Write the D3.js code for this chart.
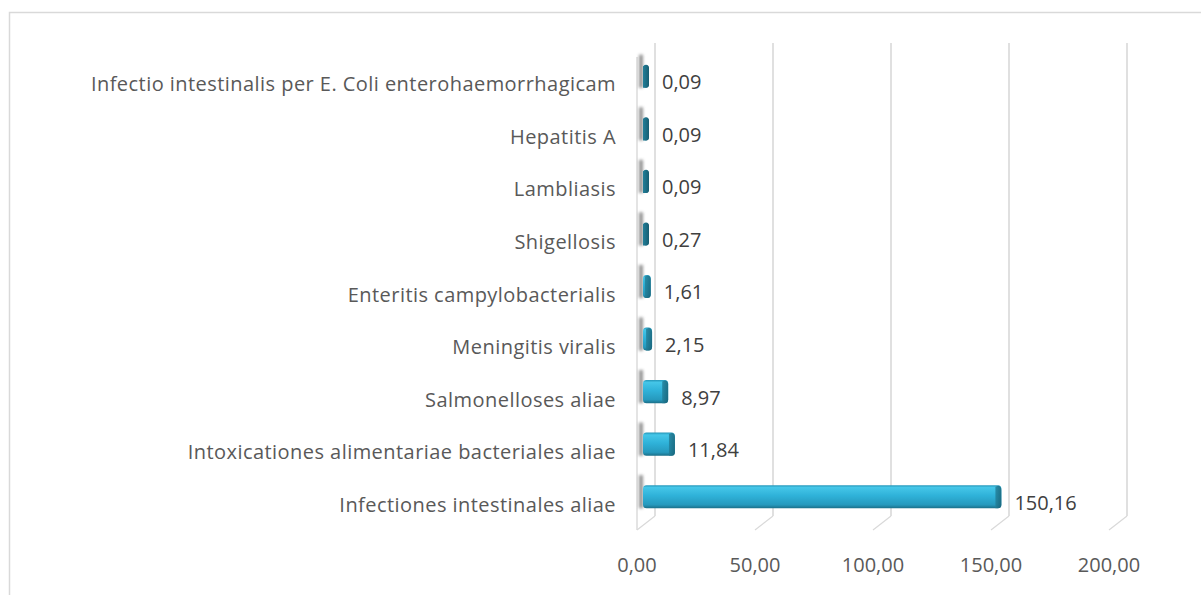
<!DOCTYPE html>
<html>
<head>
<meta charset="utf-8">
<script src="https://cdn.jsdelivr.net/npm/d3@7"></script>
<style>
  html, body { margin: 0; padding: 0; background: #fff; }
  svg { display: block; }
  text { font-family: "Open Sans", "Noto Sans", sans-serif; }
</style>
</head>
<body>
<svg id="chart" width="1201" height="595"></svg>
<script>
// Disease categories, top to bottom
const categories = [
  "Infectio intestinalis per E. Coli enterohaemorrhagicam",
  "Hepatitis A",
  "Lambliasis",
  "Shigellosis",
  "Enteritis campylobacterialis",
  "Meningitis viralis",
  "Salmonelloses aliae",
  "Intoxicationes alimentariae bacteriales aliae",
  "Infectiones intestinales aliae"
];
// Rate per category
const values = [0.09, 0.09, 0.09, 0.27, 1.61, 2.15, 8.97, 11.84, 150.16];
// Axis ticks
const tickValues = [0, 50, 100, 150, 200];

const fmt = v => d3.format(".2f")(v).replace(".", ",");

const svg = d3.select("#chart");
const defs = svg.append("defs");

// Outer chart frame
svg.append("rect")
  .attr("x", 9.5).attr("y", 12.5).attr("width", 1210).attr("height", 600)
  .attr("fill", "none").attr("stroke", "#d9d9d9").attr("stroke-width", 1.5);

// 3D box geometry: front floor edge and depth offset
const depthX = 18, depthY = -14;
const frontTop = 57, frontBottom = 530;
const x = d3.scaleLinear().domain([0, 200]).range([637, 1109]);
const y = d3.scaleBand().domain(categories)
  .range([frontTop + depthY / 2, frontBottom + depthY / 2])
  .paddingInner(0.56).paddingOuter(0.28);

const grid = svg.append("g").attr("stroke", "#d9d9d9").attr("fill", "none");
// back wall gridlines
grid.selectAll("line.back").data(tickValues).join("line")
  .attr("class", "back")
  .attr("x1", d => x(d) + depthX).attr("x2", d => x(d) + depthX)
  .attr("y1", frontTop + depthY).attr("y2", frontBottom + depthY)
  .attr("stroke-width", 1.6);
// floor diagonals
grid.selectAll("line.floor").data(tickValues).join("line")
  .attr("class", "floor")
  .attr("x1", d => x(d)).attr("y1", frontBottom)
  .attr("x2", d => x(d) + depthX).attr("y2", frontBottom + depthY)
  .attr("stroke-width", 1.2);
// side wall front edge
grid.append("line")
  .attr("x1", x(0)).attr("x2", x(0))
  .attr("y1", frontTop).attr("y2", frontBottom)
  .attr("stroke-width", 1.4);

// Bar gradients
const faceGrad = defs.append("linearGradient").attr("id", "face")
  .attr("x1", 0).attr("y1", 0).attr("x2", 0).attr("y2", 1);
[[0, "#2596b8"], [0.1, "#45c6e8"], [0.45, "#2fb2d9"], [0.85, "#2699bd"], [1, "#1b6f88"]]
  .forEach(([o, c]) => faceGrad.append("stop").attr("offset", o).attr("stop-color", c));
const capGrad = defs.append("linearGradient").attr("id", "cap")
  .attr("x1", 0).attr("y1", 0).attr("x2", 1).attr("y2", 0);
[[0, "#227f99"], [1, "#175e72"]]
  .forEach(([o, c]) => capGrad.append("stop").attr("offset", o).attr("stop-color", c));
defs.append("filter").attr("id", "soft").attr("x", "-200%").attr("y", "-50%")
  .attr("width", "500%").attr("height", "200%")
  .append("feGaussianBlur").attr("stdDeviation", 1.6);

const rows = svg.append("g").selectAll("g").data(categories).join("g")
  .attr("transform", d => `translate(0,${y(d)})`);
const bh = y.bandwidth();
const x0 = x(0) + 6;
const xEnd = (i) => Math.max(x(values[i]) + depthX / 2 + 1, x0 + 6);

// shadow cast on the side wall
rows.append("rect")
  .attr("x", x(0) + 2).attr("y", -10).attr("width", 4).attr("height", bh + 10)
  .attr("fill", "#7a7a7a").attr("opacity", 0.8).attr("filter", "url(#soft)");

// bar body
rows.append("rect")
  .attr("x", x0).attr("y", 0)
  .attr("width", (d, i) => xEnd(i) - x0).attr("height", bh)
  .attr("rx", 3.5).attr("fill", (d, i) => values[i] < 1 ? "url(#cap)" : "url(#face)");

// bar end cap
rows.append("path")
  .attr("d", (d, i) => {
    const e = xEnd(i), w = Math.min(6, e - x0);
    return `M${e - w},1.5 L${e - 3},0.5 Q${e},1 ${e},4.5 L${e},${bh - 4} Q${e},${bh} ${e - 3.5},${bh} L${e - w},${bh} Z`;
  })
  .attr("fill", "url(#cap)").attr("opacity", (d, i) => values[i] < 1 ? 1 : 0.8);

// value labels
rows.append("text")
  .attr("x", (d, i) => xEnd(i) + 13).attr("y", bh / 2 + 6).attr("dy", "0.35em")
  .attr("font-size", 20).attr("fill", "#404040")
  .text((d, i) => fmt(values[i]));

// category labels, aligned to the front of each row
svg.append("g").selectAll("text").data(categories).join("text")
  .attr("x", 616).attr("y", d => y(d) + bh / 2 - depthY / 2 + 1).attr("dy", "0.35em")
  .attr("text-anchor", "end").attr("font-size", 20).attr("letter-spacing", 0.45)
  .attr("fill", "#595959")
  .text(d => d);

// value axis tick labels
svg.append("g").selectAll("text").data(tickValues).join("text")
  .attr("x", d => x(d)).attr("y", 565).attr("dy", "0.35em")
  .attr("text-anchor", "middle").attr("font-size", 20).attr("fill", "#595959")
  .text(d => fmt(d));
</script>
</body>
</html>
